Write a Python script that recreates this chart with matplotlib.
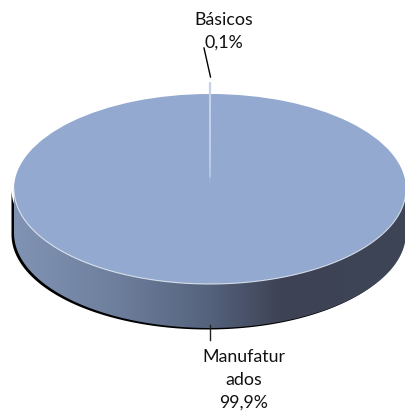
from matplotlib import pyplot as plt
from matplotlib.colors import LinearSegmentedColormap
from matplotlib.patches import Polygon
import numpy as np

plt.rcParams['font.family'] = ['Lato', 'DejaVu Sans']

categories = ['Básicos', 'Manufaturados']
values = [0.1, 99.9]
label_texts = ['Básicos\n0,1%', 'Manufatur\nados\n99,9%']
colors = ['#c3d3e8', '#94a9cf']

W, H = 405, 413
cx, cy = 210, 189   # centro da elipse em pixels
rx, ry = 196, 95
depth = 44 / ry


# pixels -> unidades do pie
def px(x):
    return (x - cx) / rx


def py(y):
    return (cy - y) / ry


fig = plt.figure(figsize=(W / 100, H / 100), dpi=100)
ax = fig.add_axes([0, 0, 1, 1])

start = 90 - values[0] / sum(values) * 360 / 2
wedges, _ = ax.pie(values, colors=colors, startangle=start, explode=[0.12, 0], radius=1,
                   wedgeprops={'edgecolor': 'none', 'zorder': 5})
wedges[0].set_zorder(6)
wedges[0].set_edgecolor(colors[0])
wedges[0].set_linewidth(0.8)

# lateral do disco
t = np.linspace(np.pi, 2 * np.pi, 200)
xs = np.cos(t)
ys = np.sin(t)
side = np.column_stack([np.r_[xs, xs[::-1]], np.r_[ys, ys[::-1] - depth]])

# sombra preta na borda de baixo
shadow = np.column_stack([np.r_[xs, xs[::-1]] - 2.5 / rx, np.r_[ys, ys[::-1] - depth - 1.5 / ry]])
ax.add_patch(Polygon(shadow, closed=True, fc='black', ec='none', zorder=1))

grad = LinearSegmentedColormap.from_list('lateral', [
    (0.0, '#8193b4'), (0.25, '#6f809e'), (0.5, '#54627c'), (0.68, '#3e4354'), (1.0, '#3d4557')])
im = ax.imshow(np.linspace(0, 1, 256).reshape(1, -1), cmap=grad, aspect='auto',
               extent=(-1, 1, -1 - depth, 0), zorder=2)
clip = Polygon(side, closed=True, fc='none', ec='none', transform=ax.transData)
ax.add_patch(clip)
im.set_clip_path(clip)

# brilho na frente do disco
ax.plot(xs, ys, color='#d5dde9', lw=0.8, zorder=6)

ax.set_aspect('auto')
ax.set_xlim(px(0), px(W))
ax.set_ylim(py(H), py(0))

# rótulos e linhas de chamada
ax.plot([px(204), px(210.5)], [py(48), py(77)], color='black', lw=1, zorder=7)
ax.plot([px(210), px(210)], [py(325), py(340)], color='#222222', lw=1, zorder=7)
ax.text(px(224), py(31), label_texts[0], ha='center', va='center', fontsize=12.8, linespacing=1.5, color='#111111')
ax.text(px(244), py(380), label_texts[1], ha='center', va='center', fontsize=12.8, linespacing=1.5, color='#111111')

fig.savefig('out.png', dpi=100, facecolor='white')
